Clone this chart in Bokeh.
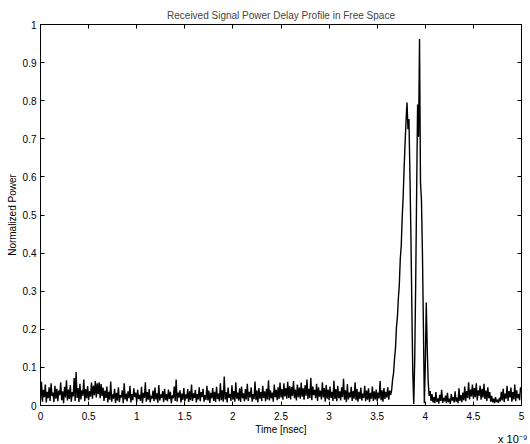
from bokeh.plotting import figure
from bokeh.models import Range1d, LinearAxis, FixedTicker, Title
from bokeh.embed import file_html
from bokeh.resources import INLINE

FONT = "Liberation Sans"

# sample spacing of the received signal (ns)
dt_ns = 0.01

# normalized received power (one value per 0.01 ns)
noise_0_1 = [
    0.015, 0.062, 0.010, 0.041, 0.022, 0.055, 0.008, 0.036, 0.019, 0.048,
    0.012, 0.058, 0.025, 0.034, 0.009, 0.052, 0.018, 0.044, 0.011, 0.039,
    0.027, 0.061, 0.014, 0.037, 0.006, 0.049, 0.021, 0.066, 0.013, 0.042,
    0.017, 0.054, 0.010, 0.035, 0.024, 0.072, 0.012, 0.088, 0.020, 0.046,
    0.009, 0.057, 0.016, 0.040, 0.026, 0.068, 0.011, 0.043, 0.019, 0.051,
    0.014, 0.038, 0.023, 0.060, 0.018, 0.052, 0.027, 0.064, 0.021, 0.058,
    0.030, 0.061, 0.019, 0.056, 0.025, 0.047, 0.012, 0.039, 0.020, 0.050,
    0.008, 0.036, 0.015, 0.063, 0.010, 0.029, 0.018, 0.044, 0.007, 0.033,
    0.013, 0.048, 0.009, 0.027, 0.021, 0.040, 0.006, 0.058, 0.016, 0.031,
    0.011, 0.037, 0.019, 0.052, 0.008, 0.030, 0.014, 0.045, 0.022, 0.034,
]
noise_1_2 = [
    0.009, 0.041, 0.017, 0.028, 0.012, 0.049, 0.006, 0.033, 0.020, 0.061,
    0.010, 0.035, 0.015, 0.043, 0.008, 0.026, 0.018, 0.039, 0.011, 0.047,
    0.016, 0.032, 0.007, 0.054, 0.013, 0.029, 0.020, 0.038, 0.009, 0.044,
    0.014, 0.030, 0.011, 0.042, 0.017, 0.036, 0.006, 0.027, 0.019, 0.050,
    0.012, 0.068, 0.010, 0.034, 0.021, 0.040, 0.008, 0.031, 0.015, 0.046,
    0.011, 0.029, 0.018, 0.043, 0.009, 0.037, 0.014, 0.055, 0.012, 0.032,
    0.020, 0.041, 0.008, 0.030, 0.016, 0.048, 0.011, 0.035, 0.022, 0.044,
    0.010, 0.027, 0.015, 0.052, 0.013, 0.039, 0.007, 0.033, 0.019, 0.046,
    0.012, 0.036, 0.009, 0.049, 0.017, 0.031, 0.011, 0.058, 0.014, 0.040,
    0.010, 0.076, 0.016, 0.035, 0.008, 0.047, 0.020, 0.030, 0.012, 0.053,
]
noise_2_3 = [
    0.015, 0.038, 0.010, 0.061, 0.018, 0.034, 0.013, 0.045, 0.009, 0.050,
    0.019, 0.032, 0.011, 0.043, 0.016, 0.057, 0.012, 0.036, 0.021, 0.048,
    0.010, 0.030, 0.017, 0.063, 0.014, 0.039, 0.008, 0.046, 0.018, 0.035,
    0.012, 0.052, 0.020, 0.037, 0.011, 0.044, 0.016, 0.066, 0.013, 0.040,
    0.019, 0.034, 0.010, 0.055, 0.022, 0.041, 0.014, 0.048, 0.017, 0.060,
    0.021, 0.043, 0.015, 0.058, 0.024, 0.046, 0.018, 0.062, 0.020, 0.051,
    0.016, 0.049, 0.025, 0.064, 0.019, 0.042, 0.013, 0.055, 0.022, 0.047,
    0.018, 0.060, 0.023, 0.045, 0.015, 0.053, 0.026, 0.068, 0.017, 0.044,
    0.020, 0.073, 0.014, 0.050, 0.027, 0.041, 0.019, 0.057, 0.012, 0.048,
    0.023, 0.039, 0.016, 0.061, 0.021, 0.046, 0.010, 0.054, 0.018, 0.042,
]
noise_3_365 = [
    0.014, 0.050, 0.020, 0.036, 0.012, 0.065, 0.017, 0.043, 0.011, 0.052,
    0.019, 0.037, 0.013, 0.048, 0.022, 0.070, 0.015, 0.040, 0.009, 0.056,
    0.016, 0.034, 0.021, 0.049, 0.012, 0.038, 0.018, 0.061, 0.014, 0.043,
    0.010, 0.036, 0.017, 0.047, 0.013, 0.031, 0.020, 0.052, 0.011, 0.039,
    0.015, 0.045, 0.009, 0.033, 0.018, 0.050, 0.012, 0.037, 0.016, 0.042,
    0.011, 0.034, 0.019, 0.064, 0.014, 0.040, 0.010, 0.046, 0.017, 0.036,
    0.021, 0.048, 0.015, 0.039, 0.028,
]
pulse = [
    0.040, 0.068, 0.085, 0.122, 0.150, 0.205, 0.232, 0.280, 0.318, 0.385,
    0.420, 0.495, 0.548, 0.625, 0.690, 0.748, 0.795, 0.725, 0.752, 0.610,
    0.455, 0.262, 0.085, 0.004, 0.120, 0.320, 0.560, 0.790, 0.705, 0.962,
    0.585, 0.540, 0.405, 0.215, 0.006, 0.105, 0.270, 0.150, 0.062, 0.025,
]
tail = [
    0.038, 0.012, 0.030, 0.008, 0.022,
    0.006, 0.035, 0.010, 0.019, 0.005, 0.028, 0.012, 0.041, 0.007, 0.020,
    0.011, 0.026, 0.006, 0.033, 0.009, 0.018, 0.004, 0.030, 0.013, 0.022,
    0.008, 0.037, 0.010, 0.021, 0.006, 0.045, 0.012, 0.027, 0.009, 0.034,
    0.014, 0.050, 0.011, 0.038, 0.020, 0.061, 0.016, 0.042, 0.024, 0.055,
    0.018, 0.046, 0.022, 0.058, 0.013, 0.040, 0.026, 0.052, 0.015, 0.044,
    0.021, 0.057, 0.017, 0.039, 0.012, 0.048, 0.019, 0.035, 0.010, 0.025,
    0.008, 0.018, 0.006, 0.022, 0.009, 0.015, 0.007, 0.020, 0.011, 0.036,
    0.013, 0.044, 0.009, 0.031, 0.018, 0.052, 0.012, 0.038, 0.021, 0.047,
    0.010, 0.035, 0.016, 0.055, 0.011, 0.040, 0.019, 0.030, 0.014, 0.048,
]

power = noise_0_1 + noise_1_2 + noise_2_3 + noise_3_365 + pulse + tail
time_ns = [i * dt_ns for i in range(len(power))]

x_ticks = [0, 0.5, 1, 1.5, 2, 2.5, 3, 3.5, 4, 4.5, 5]
x_tick_labels = ["0", "0.5", "1", "1.5", "2", "2.5", "3", "3.5", "4", "4.5", "5"]
y_ticks = [0, 0.1, 0.2, 0.3, 0.4, 0.5, 0.6, 0.7, 0.8, 0.9, 1]
y_tick_labels = ["0", "0.1", "0.2", "0.3", "0.4", "0.5", "0.6", "0.7", "0.8", "0.9", "1"]

title_text = "Received Signal Power Delay Profile in Free Space"
x_label = "Time [nsec]"
y_label = "Normalized Power"
x_exponent = "x 10\u207b\u2079"

p = figure(
    width=530, height=444,
    x_range=Range1d(0, 5), y_range=Range1d(0, 1),
    output_backend="svg", toolbar_location=None,
    min_border_left=40, min_border_right=9,
    min_border_top=24, min_border_bottom=39,
    title=title_text,
)
p.background_fill_color = "white"
p.border_fill_color = "white"
p.outline_line_color = "black"
p.grid.visible = False

p.title.text_font = FONT
p.title.text_font_size = "10px"
p.title.text_font_style = "normal"
p.title.align = "center"
p.title.standoff = 7
p.title.offset = 0

p.line(time_ns, power, line_color="black", line_width=1.4)

def style_axis(ax, ticks, labels, show):
    ax.ticker = FixedTicker(ticks=ticks)
    ax.major_tick_in = 4
    ax.major_tick_out = 0
    ax.minor_tick_in = 0
    ax.minor_tick_out = 0
    ax.axis_line_color = "black"
    ax.major_tick_line_color = "black"
    ax.major_label_text_font = FONT
    if show:
        ax.major_label_overrides = {t: l for t, l in zip(ticks, labels)}
        ax.major_label_text_font_size = "10px"
        ax.major_label_text_color = "black"
        ax.axis_label_text_font = FONT
        ax.axis_label_text_font_size = "10px"
        ax.axis_label_text_font_style = "normal"
        ax.axis_label_text_color = "black"
    else:
        ax.major_label_text_font_size = "1px"
        ax.major_label_text_color = None
        ax.major_label_standoff = 0
        ax.axis_label = None

xa = p.xaxis[0]
style_axis(xa, x_ticks, x_tick_labels, True)
xa.axis_label = x_label
xa.major_label_standoff = 6
xa.axis_label_standoff = 1

ya = p.yaxis[0]
style_axis(ya, y_ticks, y_tick_labels, True)
ya.axis_label = y_label
ya.major_label_standoff = 4
ya.axis_label_standoff = 2

top_ax = LinearAxis()
style_axis(top_ax, x_ticks, x_tick_labels, False)
p.add_layout(top_ax, "above")
right_ax = LinearAxis()
style_axis(right_ax, y_ticks, y_tick_labels, False)
p.add_layout(right_ax, "right")

# exponent of the x axis, as a title below the axis, right aligned
p.add_layout(Title(text=x_exponent, align="right", standoff=-14, offset=-6,
                   text_font=FONT, text_font_size="11px", text_font_style="normal",
                   text_color="black"), "below")

open("out.html", "w").write(file_html(p, INLINE))
